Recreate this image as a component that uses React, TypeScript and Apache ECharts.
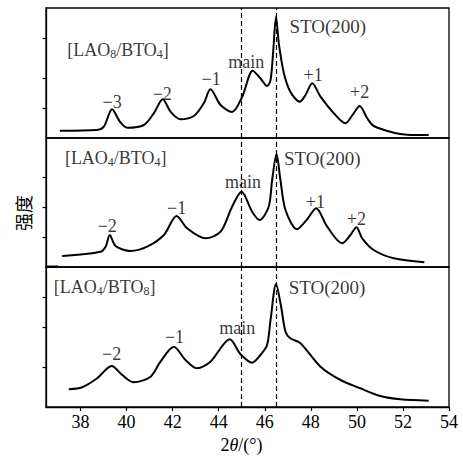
import React, { useEffect, useRef } from "react";
import * as echarts from "echarts";

// 2θ (degrees) and intensity (arbitrary units)
const thetaTop = [37.10, 38.72, 39.01, 39.37, 39.71, 40.03, 40.75, 41.18, 41.57, 41.91, 42.34, 42.92, 43.35, 43.64, 44.08, 44.58, 45.02, 45.48, 45.81, 46.10, 46.25, 46.36, 46.49, 46.61, 46.83, 47.11, 47.52, 47.77, 48.06, 48.42, 49.0, 49.5, 49.86, 50.12, 50.45, 50.73, 51.6, 52.18, 53.12];
const intTop = [7.3, 8, 11.3, 28.7, 16.3, 10.3, 13, 24.7, 38.7, 26.3, 18.7, 22, 34.7, 48.7, 33, 26, 41.3, 67.3, 59.7, 52, 58, 84.7, 121.3, 94.7, 64.7, 46.3, 36.3, 43, 54.7, 41.3, 24.7, 14.7, 24.7, 32, 19.7, 12, 5.3, 3.3, 3];

const thetaMid = [37.2, 38.87, 39.09, 39.27, 39.52, 40.17, 40.89, 41.62, 42.17, 42.63, 43.43, 44.08, 44.58, 44.99, 45.45, 45.78, 46.17, 46.32, 46.51, 46.68, 46.9, 47.4, 47.84, 48.23, 48.71, 49.36, 49.72, 49.98, 50.23, 50.73, 51.6, 52.93];
const intMid = [11, 15.3, 20.3, 32, 21, 16, 20.3, 32, 51, 38.7, 28.7, 35.3, 60.3, 75.3, 55.3, 47, 60.3, 87, 113, 87, 57, 37.7, 47.7, 58.7, 40.3, 23.7, 32, 39.7, 28.7, 17, 8.7, 4.7];

const thetaBot = [37.49, 38.07, 38.72, 39.35, 39.81, 40.31, 41.04, 41.47, 42.05, 42.56, 43.06, 43.64, 44.48, 44.94, 45.45, 45.81, 46.1, 46.25, 46.49, 46.71, 46.9, 47.11, 47.55, 48.42, 49.29, 50.15, 51.02, 51.89, 53.12];
const intBot = [17.7, 19.7, 28.7, 41, 32, 24.7, 30.3, 45.3, 60.3, 47, 38.7, 45.3, 67.7, 53, 44.3, 52, 62, 87, 123, 100.3, 75.3, 68.7, 63.7, 40.3, 27, 18.7, 11, 7.7, 6.3];

const xTicks = [38, 40, 42, 44, 46, 48, 50, 52, 54];
const yTicksTop = [30, 60, 100];
const yTicksMid = [30, 60, 90];
const yTicksBot = [40, 80, 110];
const dashedAt = [45, 46.5];

// annotations: text, 2θ, intensity, alignment
const labelsTop = [
  { t: "[LAO{s|8}/BTO{s|4}]", x: 37.42, y: 88, a: "left" },
  { t: "−3", x: 39.37, y: 36.3, a: "center" },
  { t: "−2", x: 41.55, y: 43.7, a: "center" },
  { t: "−1", x: 43.67, y: 59, a: "center" },
  { t: "main", x: 45.2, y: 76.3, a: "center" },
  { t: "STO(200)", x: 47.07, y: 111.3, a: "left" },
  { t: "+1", x: 48.1, y: 63, a: "center" },
  { t: "+2", x: 50.12, y: 46.3, a: "center" },
];
const labelsMid = [
  { t: "[LAO{s|4}/BTO{s|4}]", x: 37.32, y: 108.7, a: "left" },
  { t: "−2", x: 39.16, y: 41, a: "center" },
  { t: "−1", x: 42.17, y: 58.7, a: "center" },
  { t: "main", x: 45.05, y: 85.3, a: "center" },
  { t: "STO(200)", x: 46.83, y: 108.7, a: "left" },
  { t: "+1", x: 48.2, y: 65.3, a: "center" },
  { t: "+2", x: 49.98, y: 47.7, a: "center" },
];
const labelsBot = [
  { t: "[LAO{s|4}/BTO{s|8}]", x: 36.84, y: 120.3, a: "left" },
  { t: "−2", x: 39.35, y: 53, a: "center" },
  { t: "−1", x: 42.08, y: 70.3, a: "center" },
  { t: "main", x: 44.8, y: 78.7, a: "center" },
  { t: "STO(200)", x: 47.04, y: 119.7, a: "left" },
];

const FONT = "'Liberation Serif', 'Times New Roman', serif";

export default function App() {
  const ref = useRef<HTMLDivElement>(null);
  useEffect(() => {
    if (!ref.current) return;
    const chart = echarts.init(ref.current, null, { renderer: "svg" });
    const xMin = 36.5;
    const xMax = 54;
    const panels = [
      { top: 8, height: 130, th: thetaTop, v: intTop, ticks: yTicksTop, labels: labelsTop },
      { top: 138, height: 129, th: thetaMid, v: intMid, ticks: yTicksMid, labels: labelsMid },
      { top: 267, height: 140, th: thetaBot, v: intBot, ticks: yTicksBot, labels: labelsBot },
    ];
    const grid = panels.map((p) => ({
      left: 46,
      width: 403,
      top: p.top,
      height: p.height,
      show: true,
      borderColor: "#000",
      borderWidth: 1.3,
      backgroundColor: "transparent",
    }));
    const xAxis = panels.map((p, i) => ({
      type: "value",
      gridIndex: i,
      min: xMin,
      max: xMax,
      show: i === 2,
      axisLine: { show: true, lineStyle: { color: "#000", width: 1.3 } },
      axisTick: { show: true, customValues: xTicks, length: 4, lineStyle: { color: "#000", width: 1.2 } },
      axisLabel: {
        show: true,
        customValues: xTicks,
        color: "#000",
        fontFamily: FONT,
        fontSize: 18,
        margin: 6,
      },
      splitLine: { show: false },
      name: i === 2 ? "2{i|θ}/(°)" : "",
      nameLocation: "middle",
      nameGap: 29,
      nameTextStyle: {
        color: "#000",
        fontFamily: FONT,
        fontSize: 18,
        padding: [0, 12, 0, 0],
        rich: { i: { fontStyle: "italic", fontFamily: FONT, fontSize: 18, color: "#000" } },
      },
    }));
    const yAxis = panels.map((p, i) => ({
      type: "value",
      gridIndex: i,
      min: 0,
      max: p.height,
      axisLine: { show: true, lineStyle: { color: "#000", width: 1.3 } },
      axisTick: { show: true, customValues: p.ticks, length: 3.5, lineStyle: { color: "#000", width: 1.2 } },
      axisLabel: { show: false },
      splitLine: { show: false },
    }));
    const series: any[] = [];
    panels.forEach((p, i) => {
      series.push({
        type: "line",
        xAxisIndex: i,
        yAxisIndex: i,
        data: p.th.map((t, k) => [t, p.v[k]]),
        smooth: 0.3,
        showSymbol: false,
        symbol: "none",
        lineStyle: { color: "#000", width: 2 },
        markLine: {
          silent: true,
          symbol: "none",
          label: { show: false },
          lineStyle: { color: "#000", width: 1.2, type: [5, 3] },
          data: dashedAt.map((d) => ({ xAxis: d })),
        },
      });
      series.push({
        type: "scatter",
        xAxisIndex: i,
        yAxisIndex: i,
        symbolSize: 0,
        silent: true,
        itemStyle: { color: "#000" },
        data: p.labels.map((l) => ({
          value: [l.x, l.y],
          label: {
            show: true,
            position: [0, 0],
            formatter: l.t,
            align: l.a,
            verticalAlign: "middle",
            color: "#000",
            textBorderWidth: 0,
            fontFamily: FONT,
            fontSize: l.t.startsWith("STO") ? 19 : 18,
            lineHeight: 20,
            rich: {
              s: { fontSize: 12, fontFamily: FONT, color: "#000", verticalAlign: "bottom", lineHeight: 20, textBorderWidth: 0 },
            },
          },
        })),
      });
    });
    chart.setOption({
      animation: false,
      backgroundColor: "#fff",
      grid,
      xAxis,
      yAxis,
      series,
      graphic: [
        {
          type: "text",
          x: 23,
          y: 213,
          rotation: Math.PI / 2,
          style: {
            text: "强度",
            fontFamily: "'Noto Sans CJK SC'",
            fontSize: 18,
            fill: "#000",
            align: "center",
            verticalAlign: "middle",
            textAlign: "center",
            textVerticalAlign: "middle",
          },
        },
        { type: "rect", shape: { x: 46, y: 265.5, width: 12, height: 2.5 }, style: { fill: "#000" } },
      ],
    });
    return () => chart.dispose();
  }, []);
  return (
    <div
      ref={ref}
      style={{ position: "fixed", left: 0, top: 0, width: 463, height: 460, background: "#fff" }}
    />
  );
}
